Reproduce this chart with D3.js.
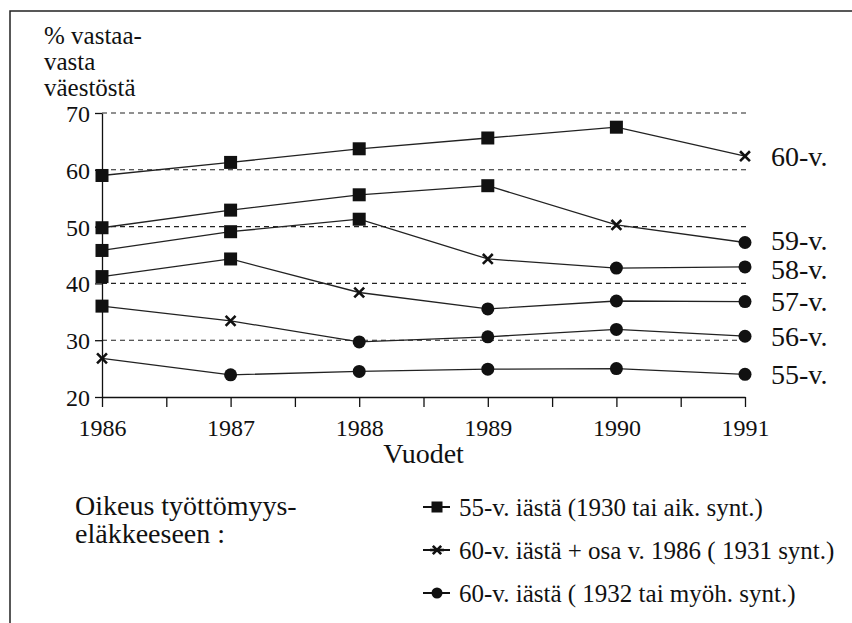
<!DOCTYPE html>
<html>
<head>
<meta charset="utf-8">
<script src="https://cdn.jsdelivr.net/npm/d3@7"></script>
<style>
  body { margin: 0; background: #fff; }
</style>
</head>
<body>
<div id="chart"></div>
<script>
const years = [1986, 1987, 1988, 1989, 1990, 1991];
const yTicks = [20, 30, 40, 50, 60, 70];
const gridValues = [30, 40, 50, 60, 70];

// one line per age group, values in % of the age group
const seriesLabels = ["60-v.", "59-v.", "58-v.", "57-v.", "56-v.", "55-v."];
const age60 = [59.0, 61.3, 63.7, 65.6, 67.5, 62.4];
const age59 = [49.8, 52.9, 55.6, 57.2, 50.3, 47.2];
const age58 = [45.8, 49.1, 51.3, 44.3, 42.7, 42.9];
const age57 = [41.2, 44.3, 38.4, 35.5, 36.9, 36.8];
const age56 = [36.0, 33.4, 29.7, 30.6, 31.9, 30.7];
const age55 = [26.8, 23.9, 24.5, 24.9, 25.0, 24.0];

// marker = pension rule that applied (sq / x / ci)
const mark60 = ["sq", "sq", "sq", "sq", "sq", "x"];
const mark59 = ["sq", "sq", "sq", "sq", "x", "ci"];
const mark58 = ["sq", "sq", "sq", "x", "ci", "ci"];
const mark57 = ["sq", "sq", "x", "ci", "ci", "ci"];
const mark56 = ["sq", "x", "ci", "ci", "ci", "ci"];
const mark55 = ["x", "ci", "ci", "ci", "ci", "ci"];

const legendKeys = ["sq", "x", "ci"];
const legendTexts = [
  "55-v. iästä (1930 tai aik. synt.)",
  "60-v. iästä + osa v. 1986 ( 1931 synt.)",
  "60-v. iästä ( 1932 tai myöh. synt.)"
];

const seriesValues = [age60, age59, age58, age57, age56, age55];
const seriesMarks = [mark60, mark59, mark58, mark57, mark56, mark55];

const FONT = "'Liberation Serif', 'Times New Roman', 'DejaVu Serif', serif";
const INK = "#111";

const W = 852, H = 623;
const svg = d3.select("#chart").append("svg")
  .attr("width", W).attr("height", H)
  .style("display", "block")
  .style("font-family", FONT);

// frame (only top and left edge visible)
svg.append("path")
  .attr("d", `M10,${H} V11 H${W}`)
  .attr("fill", "none").attr("stroke", "#222").attr("stroke-width", 1.5);

const x = d3.scaleLinear().domain([1986, 1991]).range([102, 745]);
const y = d3.scaleLinear().domain([20, 70]).range([397, 113]);

// dashed grid
svg.append("g").selectAll("line")
  .data(gridValues)
  .join("line")
  .attr("x1", x(1986)).attr("x2", x(1991) + 2)
  .attr("y1", d => y(d)).attr("y2", d => y(d))
  .attr("stroke", "#222").attr("stroke-width", 1.1)
  .attr("stroke-dasharray", "5,4");

// axes
const halfYears = d3.range(1986, 1991.01, 0.5);
const xAxis = svg.append("g")
  .attr("transform", `translate(0,${y(20)})`)
  .call(d3.axisBottom(x).tickValues(halfYears).tickSize(10).tickSizeOuter(0)
    .tickFormat(d => Number.isInteger(d) ? d : ""));
const yAxis = svg.append("g")
  .attr("transform", `translate(${x(1986)},0)`)
  .call(d3.axisLeft(y).tickValues(yTicks).tickSize(7).tickSizeOuter(0));

[xAxis, yAxis].forEach(a => {
  a.attr("font-family", FONT).attr("font-size", null);
  a.select(".domain").attr("stroke", INK).attr("stroke-width", 1.3);
  a.selectAll(".tick line").attr("stroke", INK).attr("stroke-width", 1.3);
  a.selectAll("text").attr("fill", INK).style("font-family", FONT).style("font-size", "24px");
});
xAxis.selectAll("text").attr("dy", "1.1em");
yAxis.selectAll("text").attr("x", -12).attr("dy", "0.35em");

// axis titles
svg.append("text")
  .attr("x", (x(1986) + x(1991)) / 2).attr("y", 463)
  .attr("text-anchor", "middle")
  .style("font-family", FONT).style("font-size", "28px").attr("fill", INK)
  .text("Vuodet");

svg.append("g").selectAll("text")
  .data(["% vastaa-", "vasta", "väestöstä"])
  .join("text")
  .attr("x", 44)
  .attr("y", (d, i) => 44 + i * 26)
  .style("font-family", FONT).style("font-size", "25px").attr("fill", INK)
  .text(d => d);

// markers
function drawMark(g, key, cx, cy, s) {
  if (key === "sq") {
    g.append("rect")
      .attr("x", cx - s / 2).attr("y", cy - s / 2)
      .attr("width", s).attr("height", s).attr("fill", INK);
  } else if (key === "ci") {
    g.append("circle")
      .attr("cx", cx).attr("cy", cy).attr("r", s / 2).attr("fill", INK);
  } else {
    const h = s * 0.38;
    g.append("path")
      .attr("d", `M${cx - h},${cy - h}L${cx + h},${cy + h}M${cx - h},${cy + h}L${cx + h},${cy - h}`)
      .attr("stroke", INK).attr("stroke-width", 2.6).attr("fill", "none");
  }
}

const line = d3.line().x((d, i) => x(years[i])).y(d => y(d));

// right-hand label positions: last value, nudged apart when too close
const minGap = 29;
const labelY = seriesValues.map(v => y(v[v.length - 1]));
for (let i = 1; i < labelY.length; i++) {
  if (labelY[i] - labelY[i - 1] < minGap) {
    const mid = (labelY[i] + labelY[i - 1]) / 2;
    labelY[i - 1] = mid - minGap / 2;
    labelY[i] = mid + minGap / 2;
  }
}

seriesValues.forEach((vals, si) => {
  const g = svg.append("g");
  g.append("path")
    .attr("d", line(vals))
    .attr("fill", "none").attr("stroke", "#222").attr("stroke-width", 1.3);
  vals.forEach((v, i) => drawMark(g, seriesMarks[si][i], x(years[i]), y(v), 13));
  g.append("text")
    .attr("x", x(1991) + 26).attr("y", labelY[si])
    .attr("dy", "0.35em")
    .style("font-family", FONT).style("font-size", "28px").attr("fill", INK)
    .text(seriesLabels[si]);
});

// legend
svg.append("g").selectAll("text")
  .data(["Oikeus työttömyys-", "eläkkeeseen :"])
  .join("text")
  .attr("x", 75)
  .attr("y", (d, i) => 515 + i * 28)
  .style("font-family", FONT).style("font-size", "28px").attr("fill", INK)
  .text(d => d);

const legendY = d3.scalePoint().domain(legendKeys).range([507, 593]);
legendKeys.forEach((k, i) => {
  const g = svg.append("g");
  const cy = legendY(k);
  g.append("line")
    .attr("x1", 423).attr("x2", 450).attr("y1", cy).attr("y2", cy)
    .attr("stroke", INK).attr("stroke-width", 2);
  drawMark(g, k, 437, cy, 11);
  if (k === "x") {
    g.append("line").attr("x1", 430).attr("x2", 444).attr("y1", cy).attr("y2", cy)
      .attr("stroke", INK).attr("stroke-width", 2.6);
  }
  g.append("text")
    .attr("x", 459).attr("y", cy).attr("dy", "0.35em")
    .style("font-family", FONT).style("font-size", "25px").attr("fill", INK)
    .text(legendTexts[i]);
});
</script>
</body>
</html>
